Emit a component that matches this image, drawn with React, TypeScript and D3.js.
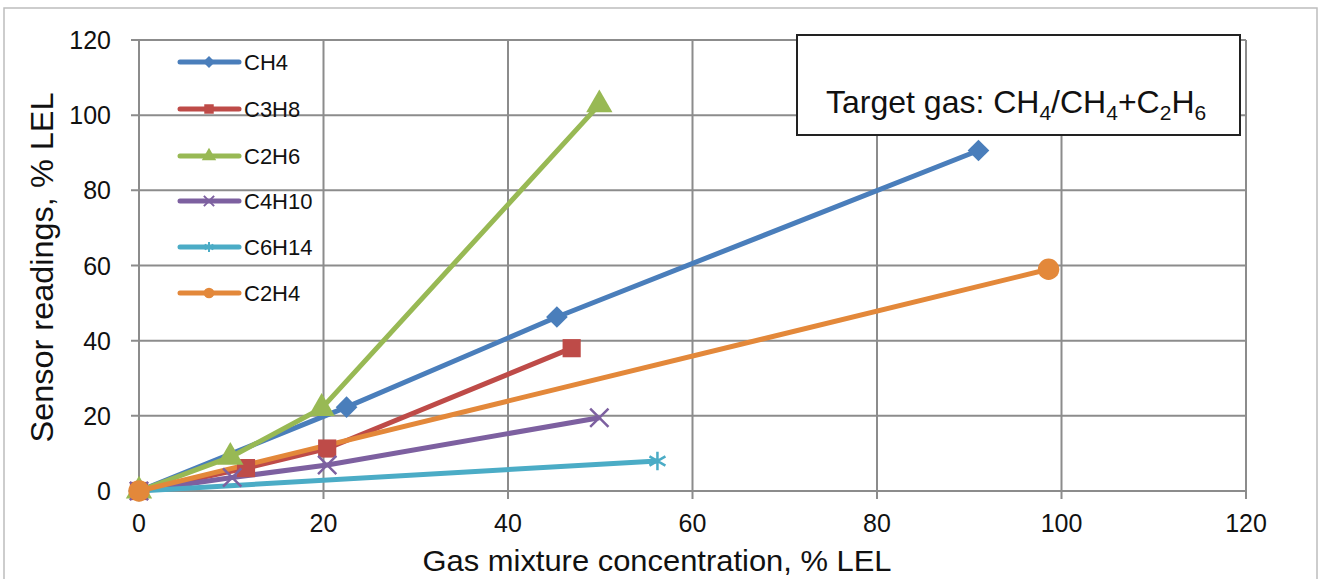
import React from 'react';
import * as d3 from 'd3';

// 시리즈 데이터 (x: gas mixture % LEL, y: sensor reading % LEL)
const seriesNames = ['CH4', 'C3H8', 'C2H6', 'C4H10', 'C6H14', 'C2H4'];
const ch4X = [0, 22.5, 45.3, 91];
const ch4Y = [0, 22.3, 46.3, 90.6];
const c3h8X = [0, 11.6, 20.4, 46.9];
const c3h8Y = [0, 6.1, 11.3, 38];
const c2h6X = [0, 9.9, 19.8, 49.9];
const c2h6Y = [0, 9, 22, 102.8];
const c4h10X = [0, 10.1, 20.4, 49.9];
const c4h10Y = [0, 3.6, 6.9, 19.5];
const c6h14X = [0, 56.2];
const c6h14Y = [0, 8];
const c2h4X = [0, 98.6];
const c2h4Y = [0, 59];

const xTicks = [0, 20, 40, 60, 80, 100, 120];
const yTicks = [0, 20, 40, 60, 80, 100, 120];

const COLORS = ['#4A7EBB', '#BE4B48', '#98B954', '#7D60A0', '#4BACC6', '#E3883A'];
const FONT = '"Liberation Sans", Arial, sans-serif';

const W = 1321;
const H = 579;
const margin = { left: 139, right: 75, top: 40, bottom: 88 };

type Pt = { x: number; y: number };
const zip = (xs: number[], ys: number[]): Pt[] => xs.map((x, i) => ({ x, y: ys[i] }));

const seriesData: Pt[][] = [
  zip(ch4X, ch4Y),
  zip(c3h8X, c3h8Y),
  zip(c2h6X, c2h6Y),
  zip(c4h10X, c4h10Y),
  zip(c6h14X, c6h14Y),
  zip(c2h4X, c2h4Y),
];

const markerTypes = [
  d3.symbolDiamond2,
  d3.symbolSquare,
  d3.symbolTriangle,
  d3.symbolX,
  d3.symbolAsterisk,
  d3.symbolCircle,
];
const strokeMarker = [false, false, false, true, true, false];
const markerSizes = [300, 330, 300, 220, 240, 360];

const App: React.FC = () => {
  const x = d3.scaleLinear().domain([0, 120]).range([margin.left, W - margin.right]);
  const y = d3.scaleLinear().domain([0, 120]).range([H - margin.bottom, margin.top]);
  const line = d3
    .line<Pt>()
    .x((d) => x(d.x))
    .y((d) => y(d.y));

  const marker = (i: number, size: number) =>
    d3.symbol().type(markerTypes[i]).size(size)() || '';

  const legendY = [62, 109, 156, 201, 247, 293];

  return (
    <svg width={W} height={H} style={{ position: 'absolute', left: 0, top: 0, background: '#fff' }} fontFamily={FONT}>
      <rect x={4} y={8} width={W - 8} height={H - 6} fill="#fff" stroke="#bdbdbd" strokeWidth={1.5} />

      {/* 그리드 */}
      {yTicks.map((t) => (
        <line key={'gy' + t} x1={x(0) - 8} x2={x(120)} y1={y(t)} y2={y(t)} stroke="#8c8c8c" strokeWidth={2} />
      ))}
      {xTicks.map((t) => (
        <line key={'gx' + t} x1={x(t)} x2={x(t)} y1={y(120)} y2={y(0) + 8} stroke="#8c8c8c" strokeWidth={2} />
      ))}

      {/* 축 라벨 */}
      {yTicks.map((t) => (
        <text key={'ly' + t} x={x(0) - 28} y={y(t)} dy="0.36em" textAnchor="end" fontSize={25} fill="#111">
          {t}
        </text>
      ))}
      {xTicks.map((t) => (
        <text key={'lx' + t} x={x(t)} y={y(0) + 41} textAnchor="middle" fontSize={25} fill="#111">
          {t}
        </text>
      ))}
      <text x={657} y={571} textAnchor="middle" fontSize={30} textLength={469} lengthAdjust="spacingAndGlyphs" fill="#111">
        Gas mixture concentration, % LEL
      </text>
      <text transform={`translate(53,${(y(0) + y(120)) / 2 + 2}) rotate(-90)`} textAnchor="middle" fontSize={31} textLength={350} lengthAdjust="spacingAndGlyphs" fill="#111">
        Sensor readings, % LEL
      </text>

      {/* 시리즈 라인 */}
      {seriesData.map((d, i) => (
        <path key={'s' + i} d={line(d) || ''} fill="none" stroke={COLORS[i]} strokeWidth={5} strokeLinejoin="round" />
      ))}
      {/* 마커 */}
      {seriesData.map((d, i) =>
        d.map((p, j) => (
          <path
            key={'m' + i + '-' + j}
            transform={`translate(${x(p.x)},${y(p.y)})`}
            d={marker(i, markerSizes[i])}
            fill={strokeMarker[i] ? 'none' : COLORS[i]}
            stroke={COLORS[i]}
            strokeWidth={strokeMarker[i] ? 2.5 : 0}
          />
        ))
      )}

      {/* 범례 */}
      {seriesNames.map((name, i) => (
        <g key={'lg' + i}>
          <line x1={180} x2={239} y1={legendY[i]} y2={legendY[i]} stroke={COLORS[i]} strokeWidth={5} strokeLinecap="round" />
          <path
            transform={`translate(209,${legendY[i]})`}
            d={marker(i, strokeMarker[i] ? 70 : 90)}
            fill={strokeMarker[i] ? 'none' : COLORS[i]}
            stroke={COLORS[i]}
            strokeWidth={strokeMarker[i] ? 2 : 0}
          />
          <text x={244} y={legendY[i]} dy="0.36em" fontSize={22} fill="#111">
            {name}
          </text>
        </g>
      ))}

      {/* 주석 박스 */}
      <rect x={797} y={35} width={443} height={100} fill="#fff" stroke="#222" strokeWidth={2} />
      <text x={826} y={113} fontSize={32} fill="#111">
        Target gas: CH
        <tspan fontSize={21} dy={7}>4</tspan>
        <tspan dy={-7}>/CH</tspan>
        <tspan fontSize={21} dy={7}>4</tspan>
        <tspan dy={-7}>+C</tspan>
        <tspan fontSize={21} dy={7}>2</tspan>
        <tspan dy={-7}>H</tspan>
        <tspan fontSize={21} dy={7}>6</tspan>
      </text>
    </svg>
  );
};

export default App;
